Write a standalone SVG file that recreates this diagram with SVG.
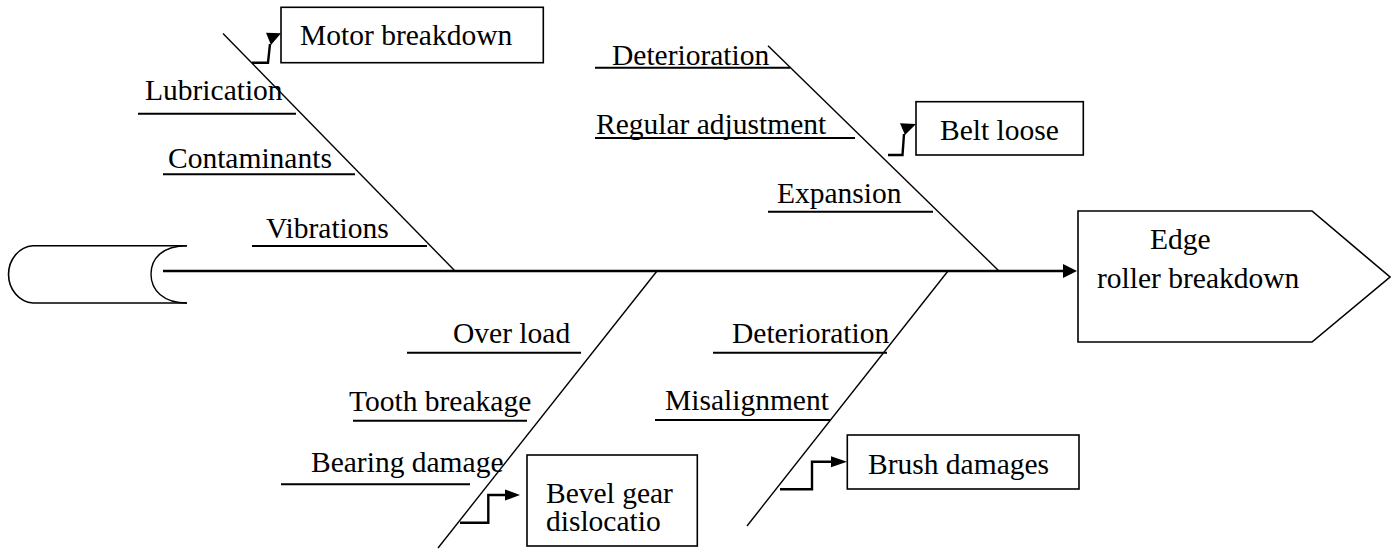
<svg xmlns="http://www.w3.org/2000/svg" width="1391" height="552" viewBox="0 0 1391 552" font-family="'Liberation Serif', 'DejaVu Serif', serif">
<style>
text{font-family:'Liberation Serif','DejaVu Serif',serif;font-size:29.5px;fill:#000}
.bone{stroke:#000;stroke-width:1.4;fill:none}
.ul{stroke:#000;stroke-width:2;fill:none}
.box{stroke:#000;stroke-width:1.6;fill:#fff}
.con{stroke:#000;stroke-width:2.4;fill:none}
.ah{fill:#000;stroke:none}
</style>
<rect width="1391" height="552" fill="#fff"/>
<g id="tail">
<path class="box" d="M187,245.7 H33 A26,28.7 0 0 0 33,303 H187" fill="none"/>
<path class="bone" d="M187,245.7 C163,245.7 151,258 151,274 C151,290 163,303 187,303" stroke-width="1.8"/>
</g>
<g id="connectors">
<line x1="163" y1="271" x2="1065" y2="271" stroke="#000" stroke-width="2.6"/>
<polygon class="ah" points="1063,264 1077,271 1063,278"/>
<line class="bone" x1="223" y1="33.5" x2="455" y2="271"/>
<line class="bone" x1="768" y1="45.7" x2="999" y2="271"/>
<line class="bone" x1="657" y1="271" x2="438" y2="548"/>
<line class="bone" x1="948" y1="271" x2="747" y2="526"/>
<path class="con" d="M252,62.7 H268 L270,44"/>
<polygon class="ah" points="266,32.7 281,33.3 271,45"/>
<path class="con" d="M888,155 H902.5 L904,134"/>
<polygon class="ah" points="900,123.3 916,124 905,135"/>
<path class="con" d="M460,522.7 H488.3 V495 H507"/>
<polygon class="ah" points="505,489.5 520,495 505,500.5"/>
<path class="con" d="M780,489.3 H812 V461.7 H833"/>
<polygon class="ah" points="831,456.2 847,461.7 831,467.2"/>
</g>
<g id="motor-causes">
<text x="145" y="100">Lubrication</text>
<line class="ul" x1="138" y1="113.7" x2="296" y2="113.7"/>
<text x="168" y="168">Contaminants</text>
<line class="ul" x1="163" y1="174.3" x2="355" y2="174.3"/>
<text x="266" y="238">Vibrations</text>
<line class="ul" x1="252" y1="246" x2="427" y2="246"/>
</g>
<g id="belt-causes">
<text x="612" y="65">Deterioration</text>
<line class="ul" x1="595" y1="67.7" x2="790" y2="67.7"/>
<text x="596" y="134">Regular adjustment</text>
<line class="ul" x1="595" y1="138" x2="855" y2="138"/>
<text x="777" y="203">Expansion</text>
<line class="ul" x1="768" y1="211.7" x2="933" y2="211.7"/>
</g>
<g id="bevel-causes">
<text x="453" y="342.7">Over load</text>
<line class="ul" x1="407" y1="352.7" x2="581" y2="352.7"/>
<text x="349" y="410.7">Tooth breakage</text>
<line class="ul" x1="353" y1="420.7" x2="527" y2="420.7"/>
<text x="311" y="471.7">Bearing damage</text>
<line class="ul" x1="281" y1="484.3" x2="470" y2="484.3"/>
</g>
<g id="brush-causes">
<text x="732" y="342.7">Deterioration</text>
<line class="ul" x1="713" y1="352.7" x2="887" y2="352.7"/>
<text x="665" y="410">Misalignment</text>
<line class="ul" x1="655" y1="420" x2="830" y2="420"/>
</g>
<g id="motor-breakdown">
<rect class="box" x="281" y="7.3" width="262.3" height="55.4"/>
<text x="300" y="45">Motor breakdown</text>
</g>
<g id="belt-loose">
<rect class="box" x="916" y="101.7" width="167.3" height="53.3"/>
<text x="940" y="140">Belt loose</text>
</g>
<g id="bevel-gear">
<rect class="box" x="527" y="455" width="170.3" height="91"/>
<text x="546" y="502.5">Bevel gear</text>
<text x="546" y="531">dislocatio</text>
</g>
<g id="brush-damages">
<rect class="box" x="847.3" y="435" width="231.7" height="54"/>
<text x="868" y="474">Brush damages</text>
</g>
<g id="effect">
<path class="box" d="M1078,211 H1312 L1390,277 L1312,342 H1078 Z"/>
<text x="1150" y="249">Edge</text>
<text x="1097" y="288">roller breakdown</text>
</g>
</svg>
